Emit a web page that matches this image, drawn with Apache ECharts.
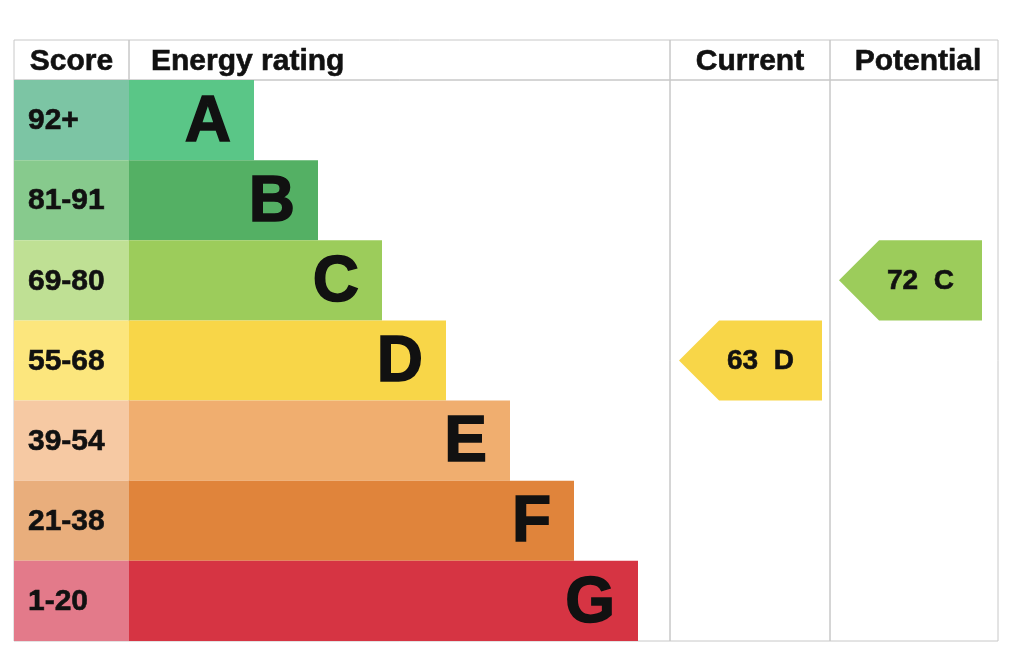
<!DOCTYPE html>
<html>
  <head>
    <meta charset="utf-8">
    <title>Energy rating</title>
    <script src="https://cdn.jsdelivr.net/npm/echarts@6/dist/echarts.min.js"></script>
    <style>
      html, body { margin: 0; padding: 0; background: #fff; }
      #chart { width: 1024px; height: 669px; }
    </style>
  </head>
  <body>
    <div id="chart"></div>
  </body>
  <script>
    // data
    var bands = ['A', 'B', 'C', 'D', 'E', 'F', 'G'];
    var scoreRanges = ['92+', '81-91', '69-80', '55-68', '39-54', '21-38', '1-20'];
    var barLengths = [125, 189, 253, 317, 381, 445, 509];
    var headers = ['Score', 'Energy rating', 'Current', 'Potential'];
    var current = [63, 'D'];
    var potential = [72, 'C'];

    // colours
    var bandColors = ['#5ac687', '#54b064', '#9ccc5b', '#f8d648', '#f0ae6f', '#e0843b', '#d63443'];
    var scoreColors = ['#7cc5a4', '#87ca8d', '#bfe094', '#fce67d', '#f6c9a3', '#e9ae7c', '#e37a8a'];

    var FONT = 'Liberation Sans';
    var INK = '#111';
    var LINE = '#c8c8c8';

    // column layout: [left, width]
    var cols = [[14, 115], [129, 541], [670, 160], [830, 168]];

    var grids = [], xAxes = [], yAxes = [];
    cols.forEach(function (c) {
      // header cell
      grids.push({ left: c[0], top: 40, width: c[1], height: 40, show: true, borderColor: LINE, borderWidth: 1 });
      xAxes.push({ gridIndex: grids.length - 1, type: 'value', show: false });
      yAxes.push({ gridIndex: grids.length - 1, type: 'value', show: false });
    });
    cols.forEach(function (c, i) {
      // body
      grids.push({ left: c[0], top: 80, width: c[1], height: 561, show: true, borderColor: LINE, borderWidth: 1 });
      xAxes.push({ gridIndex: grids.length - 1, type: 'value', show: false, min: 0, max: i === 1 ? 541 : 1 });
      yAxes.push({ gridIndex: grids.length - 1, type: 'category', show: false, inverse: true, data: bands });
    });

    function arrowSeries(gridIdx, item) {
      return {
        type: 'custom',
        xAxisIndex: gridIdx,
        yAxisIndex: gridIdx,
        data: [item],
        renderItem: function (params, api) {
          var cs = params.coordSys;
          var idx = api.value(1);
          var yc = api.coord([0, idx])[1];
          var h = api.size([0, 1])[1];
          var x0 = cs.x + 9, x1 = x0 + 143, d = h / 2;
          return {
            type: 'group',
            children: [
              {
                type: 'polygon',
                shape: { points: [[x0, yc], [x0 + d, yc - d], [x1, yc - d], [x1, yc + d], [x0 + d, yc + d]] },
                style: { fill: bandColors[idx] }
              },
              {
                type: 'text',
                style: {
                  text: api.value(0) + '  ' + bands[idx],
                  x: (x0 + x1) / 2 + 10, y: yc + 1,
                  textAlign: 'center', textVerticalAlign: 'middle',
                  fontFamily: FONT, fontWeight: 'bold', fontSize: 28, fill: INK,
                  stroke: INK, lineWidth: 0.6
                }
              }
            ]
          };
        }
      };
    }

    function headerText(text, x, align) {
      return {
        type: 'text', x: x, y: 62,
        style: {
          text: text, textAlign: align, textVerticalAlign: 'middle',
          fontFamily: FONT, fontWeight: 'bold', fontSize: 30, fill: INK,
          stroke: INK, lineWidth: 0.6
        }
      };
    }

    var myChart = echarts.init(document.getElementById('chart'));
    var option = {
      animation: false,
      backgroundColor: '#fff',
      grid: grids,
      xAxis: xAxes,
      yAxis: yAxes,
      graphic: [
        headerText(headers[0], 71.5, 'center'),
        headerText(headers[1], 151, 'left'),
        headerText(headers[2], 750, 'center'),
        headerText(headers[3], 918, 'center')
      ],
      series: [
        {
          // score cells
          type: 'bar',
          xAxisIndex: 4,
          yAxisIndex: 4,
          barWidth: '100%',
          data: bands.map(function (b, i) { return { value: 1, itemStyle: { color: scoreColors[i] } }; }),
          label: {
            show: true,
            position: 'insideLeft',
            distance: 14,
            offset: [0, 1],
            formatter: function (p) { return scoreRanges[p.dataIndex]; },
            fontFamily: FONT,
            fontWeight: 'bold',
            fontSize: 30,
            color: INK,
            textBorderColor: INK,
            textBorderWidth: 0.6
          }
        },
        {
          // rating bars
          type: 'bar',
          xAxisIndex: 5,
          yAxisIndex: 5,
          barWidth: '100%',
          data: barLengths.map(function (v, i) { return { value: v, itemStyle: { color: bandColors[i] } }; }),
          label: {
            show: true,
            position: 'insideRight',
            distance: 23,
            offset: [0, 3],
            formatter: '{b}',
            fontFamily: FONT,
            fontWeight: 'bold',
            fontSize: 64,
            color: INK,
            textBorderColor: INK,
            textBorderWidth: 1.5
          }
        },
        arrowSeries(6, current),
        arrowSeries(7, potential)
      ]
    };
    myChart.setOption(option);
  </script>
</html>
